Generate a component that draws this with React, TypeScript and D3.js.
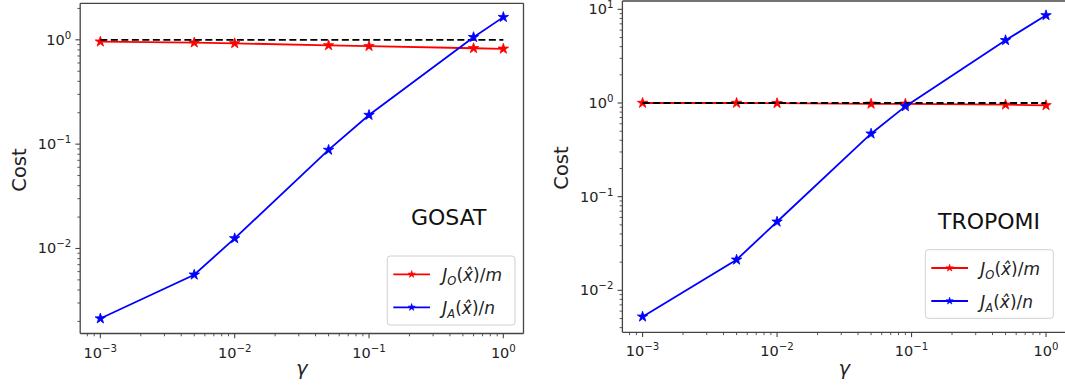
import React from 'react';
import * as d3 from 'd3';

// ---------- data ----------
const gammaGOSAT = [0.001, 0.005, 0.01, 0.05, 0.1, 0.6, 1];
const costObsGOSAT = [0.96, 0.94, 0.925, 0.885, 0.87, 0.83, 0.82];
const costPriorGOSAT = [0.00213, 0.0056, 0.0125, 0.088, 0.19, 1.06, 1.65];

const gammaTROPOMI = [0.001, 0.005, 0.01, 0.05, 0.09, 0.5, 1];
const costObsTROPOMI = [1.0, 1.0, 0.995, 0.98, 0.98, 0.96, 0.945];
const costPriorTROPOMI = [0.00523, 0.0212, 0.054, 0.47, 0.92, 4.67, 8.63];

const refGamma = [0.001, 1];
const refCost = 1;

const xAxisLabel = 'γ';
const yAxisLabel = 'Cost';

// ---------- layout ----------
const FONT = "'DejaVu Sans', sans-serif";
const RED = '#ff0000';
const BLUE = '#0000ff';

type PanelCfg = {
  name: string;
  gamma: number[];
  obs: number[];
  prior: number[];
  x0: number; x1: number; yTop: number; yBot: number;
  xLog: [number, number];
  yLog: [number, number];
  nameX: number; nameY: number;
  legX: number; legY: number; legW: number; legH: number;
  costX: number; costY: number;
  clipRight: boolean;
};

const panels: PanelCfg[] = [
  {
    name: 'GOSAT', gamma: gammaGOSAT, obs: costObsGOSAT, prior: costPriorGOSAT,
    x0: 80.2, x1: 523.5, yTop: 3.3, yBot: 333.5,
    xLog: [-3.15, 0.15], yLog: [-2.815, 0.35],
    nameX: 411, nameY: 225,
    legX: 387.3, legY: 256, legW: 127.7, legH: 69,
    costX: 25.5, costY: 170,
    clipRight: false,
  },
  {
    name: 'TROPOMI', gamma: gammaTROPOMI, obs: costObsTROPOMI, prior: costPriorTROPOMI,
    x0: 622.4, x1: 1066.2, yTop: 1, yBot: 332.3,
    xLog: [-3.15, 0.15], yLog: [-2.448, 1.089],
    nameX: 938, nameY: 229,
    legX: 925.3, legY: 249.7, legW: 128, legH: 68.6,
    costX: 567.5, costY: 168,
    clipRight: true,
  },
];

const starPath = (size: number) => d3.symbol(d3.symbolStar, size)() as string;

function TickLabel({ x, y, exp, anchor }: { x: number; y: number; exp: number; anchor: 'middle' | 'end' }) {
  const e = exp < 0 ? '\u2212' + Math.abs(exp) : String(exp);
  return (
    <text x={x} y={y} textAnchor={anchor} fontFamily={FONT} fontSize={14.5} fill="#222">
      <tspan>10</tspan>
      <tspan dy={-6} fontSize={10.2}>{e}</tspan>
    </text>
  );
}

function LegendLabel({ x, y, sub, denom }: { x: number; y: number; sub: string; denom: string }) {
  return (
    <text x={x} y={y} fontFamily={FONT} fontSize={17} fill="#222">
      <tspan fontStyle="italic">J</tspan>
      <tspan fontStyle="italic" fontSize={11.5} dy={4}>{sub}</tspan>
      <tspan dy={-4}>(</tspan>
      <tspan fontStyle="italic">{'x\u0302'}</tspan>
      <tspan>)/</tspan>
      <tspan fontStyle="italic">{denom}</tspan>
    </text>
  );
}

function Panel({ c }: { c: PanelCfg }) {
  const xs = d3.scaleLog().domain([10 ** c.xLog[0], 10 ** c.xLog[1]]).range([c.x0, c.x1]);
  const ys = d3.scaleLog().domain([10 ** c.yLog[0], 10 ** c.yLog[1]]).range([c.yBot, c.yTop]);

  const line = d3.line<[number, number]>().x(d => xs(d[0])).y(d => ys(d[1]));
  const obsPts = c.gamma.map((g, i) => [g, c.obs[i]] as [number, number]);
  const priorPts = c.gamma.map((g, i) => [g, c.prior[i]] as [number, number]);
  const refPts = refGamma.map(g => [g, refCost] as [number, number]);

  const majors = (lo: number, hi: number) => d3.range(Math.ceil(lo), Math.floor(hi) + 1);
  const minors = (lo: number, hi: number) => {
    const out: number[] = [];
    for (let k = Math.floor(lo); k <= Math.ceil(hi); k++) {
      for (let m = 2; m <= 9; m++) {
        const l = Math.log10(m * 10 ** k);
        if (l >= lo && l <= hi) out.push(m * 10 ** k);
      }
    }
    return out;
  };

  const xMaj = majors(c.xLog[0], c.xLog[1]);
  const yMaj = majors(c.yLog[0], c.yLog[1]);
  const xMin = minors(c.xLog[0], c.xLog[1]);
  const yMin = minors(c.yLog[0], c.yLog[1]);

  const spine = '#444';
  const sw = 1.3;
  const star = starPath(34);
  const legStar = starPath(16);

  const legLine1 = c.legY + 18.3;
  const legLine2 = c.legY + 51.3;
  const lx0 = c.legX + 6;
  const lx1 = c.legX + 42.7;
  const tx = c.legX + 55;

  return (
    <g>
      {/* data */}
      <path d={line(obsPts) as string} fill="none" stroke={RED} strokeWidth={1.8} />
      {obsPts.map((p, i) => (
        <path key={'o' + i} d={star} transform={`translate(${xs(p[0])},${ys(p[1])})`} fill={RED} stroke={RED} strokeWidth={0.8} />
      ))}
      <path d={line(refPts) as string} fill="none" stroke="#000" strokeWidth={1.8} strokeDasharray="7,3.5" />
      <path d={line(priorPts) as string} fill="none" stroke={BLUE} strokeWidth={1.8} />
      {priorPts.map((p, i) => (
        <path key={'p' + i} d={star} transform={`translate(${xs(p[0])},${ys(p[1])})`} fill={BLUE} stroke={BLUE} strokeWidth={0.8} />
      ))}

      {/* spines */}
      <line x1={c.x0} x2={c.x1} y1={c.yTop} y2={c.yTop} stroke={spine} strokeWidth={sw} />
      <line x1={c.x0} x2={c.x1} y1={c.yBot} y2={c.yBot} stroke={spine} strokeWidth={sw} />
      <line x1={c.x0} x2={c.x0} y1={c.yTop} y2={c.yBot} stroke={spine} strokeWidth={sw} />
      {!c.clipRight && <line x1={c.x1} x2={c.x1} y1={c.yTop} y2={c.yBot} stroke={spine} strokeWidth={sw} />}

      {/* x ticks */}
      {xMaj.map(k => (
        <g key={'xM' + k}>
          <line x1={xs(10 ** k)} x2={xs(10 ** k)} y1={c.yBot} y2={c.yBot + 4.8} stroke={spine} strokeWidth={1.1} />
          <TickLabel x={xs(10 ** k)} y={c.yBot + 24} exp={k} anchor="middle" />
        </g>
      ))}
      {xMin.map((v, i) => (
        <line key={'xm' + i} x1={xs(v)} x2={xs(v)} y1={c.yBot} y2={c.yBot + 2.8} stroke={spine} strokeWidth={0.9} />
      ))}

      {/* y ticks */}
      {yMaj.map(k => (
        <g key={'yM' + k}>
          <line x1={c.x0 - 4.8} x2={c.x0} y1={ys(10 ** k)} y2={ys(10 ** k)} stroke={spine} strokeWidth={1.1} />
          <TickLabel x={c.x0 - 9} y={ys(10 ** k) + 5} exp={k} anchor="end" />
        </g>
      ))}
      {yMin.map((v, i) => (
        <line key={'ym' + i} x1={c.x0 - 2.8} x2={c.x0} y1={ys(v)} y2={ys(v)} stroke={spine} strokeWidth={0.9} />
      ))}

      {/* axis labels */}
      <text x={(c.x0 + c.x1) / 2} y={375} textAnchor="middle" fontFamily={FONT} fontSize={19.5} fontStyle="italic" fill="#222">{xAxisLabel}</text>
      <text transform={`translate(${c.costX},${c.costY}) rotate(-90)`} textAnchor="middle" fontFamily={FONT} fontSize={19.5} fill="#222">{yAxisLabel}</text>

      {/* panel name */}
      <text x={c.nameX} y={c.nameY} fontFamily={FONT} fontSize={22} fill="#111">{c.name}</text>

      {/* legend */}
      <rect x={c.legX} y={c.legY} width={c.legW} height={c.legH} rx={3} ry={3} fill="#fff" fillOpacity={0.8} stroke="#d0d0d0" strokeWidth={1} />
      <line x1={lx0} x2={lx1} y1={legLine1} y2={legLine1} stroke={RED} strokeWidth={1.8} />
      <path d={legStar} transform={`translate(${(lx0 + lx1) / 2},${legLine1})`} fill={RED} stroke={RED} strokeWidth={0.6} />
      <line x1={lx0} x2={lx1} y1={legLine2} y2={legLine2} stroke={BLUE} strokeWidth={1.8} />
      <path d={legStar} transform={`translate(${(lx0 + lx1) / 2},${legLine2})`} fill={BLUE} stroke={BLUE} strokeWidth={0.6} />
      <LegendLabel x={tx} y={legLine1 + 6.5} sub="O" denom="m" />
      <LegendLabel x={tx} y={legLine2 + 6.5} sub="A" denom="n" />
    </g>
  );
}

export default function App() {
  return (
    <svg width={1065} height={389} style={{ position: 'absolute', left: 0, top: 0, background: '#fff' }}>
      <rect x={0} y={0} width={1065} height={389} fill="#fff" />
      {panels.map(p => <Panel key={p.name} c={p} />)}
    </svg>
  );
}
